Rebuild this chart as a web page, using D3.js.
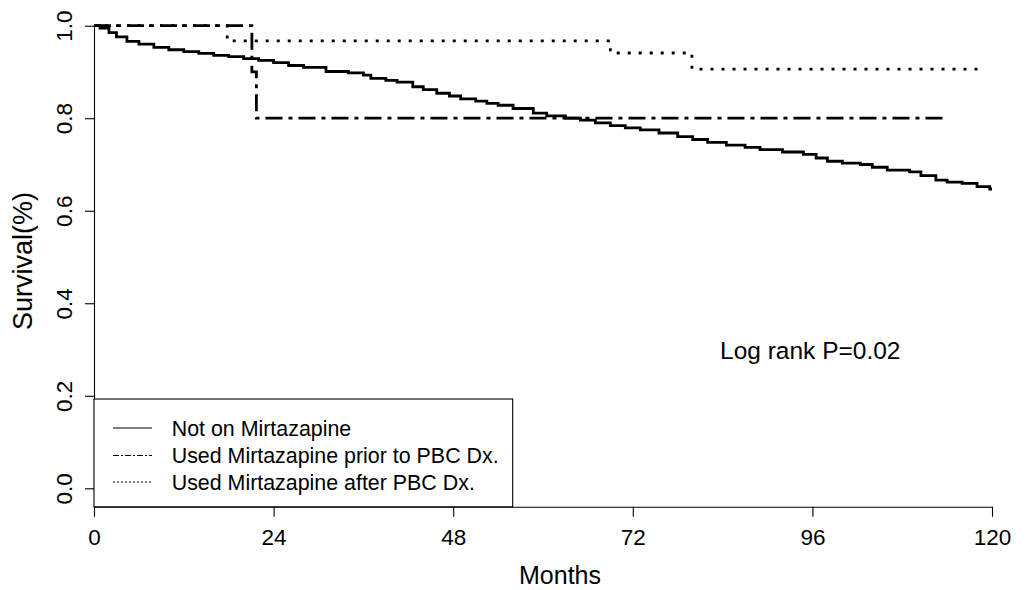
<!DOCTYPE html>
<html>
<head>
<meta charset="utf-8">
<script src="https://cdn.jsdelivr.net/npm/d3@7"></script>
<style>
  html, body { margin: 0; padding: 0; background: #fff; }
  svg { display: block; font-family: "Liberation Sans", Arial, sans-serif; }
</style>
</head>
<body>
<svg id="chart" width="1027" height="590"></svg>
<script>
// ---- data ----
const notOnMonths = [0, 0.8, 2, 3, 4.4, 6, 8, 10, 12, 14, 16, 18, 20, 22, 24, 26, 28, 31, 34, 36, 37, 39, 40.5, 42.6, 44, 45.8, 47.5, 49, 51, 52.5, 54, 56, 58.7, 60.5, 63, 65, 67, 69, 71, 73, 75.5, 78, 80, 82, 84.5, 87, 89, 92, 94.8, 96.5, 98, 100, 102.4, 104, 106, 109, 110.5, 112.5, 114, 116, 118, 119.7, 120];
const notOnSurv   = [1.0, 0.995, 0.985, 0.976, 0.966, 0.960, 0.953, 0.948, 0.944, 0.940, 0.936, 0.933, 0.929, 0.925, 0.920, 0.914, 0.910, 0.901, 0.898, 0.893, 0.886, 0.882, 0.878, 0.868, 0.862, 0.854, 0.848, 0.842, 0.837, 0.832, 0.828, 0.821, 0.811, 0.805, 0.800, 0.796, 0.790, 0.784, 0.779, 0.775, 0.768, 0.760, 0.754, 0.748, 0.742, 0.737, 0.732, 0.727, 0.722, 0.714, 0.707, 0.703, 0.700, 0.694, 0.688, 0.684, 0.676, 0.666, 0.662, 0.659, 0.652, 0.647, 0.647];

const priorMonths = [0, 21.1, 21.7, 114.1];
const priorSurv   = [1.0, 0.90, 0.80, 0.80];

const afterMonths = [0, 17.8, 69.0, 79.9, 118.8];
const afterSurv   = [1.0, 0.967, 0.941, 0.906, 0.906];

const xTicks = [0, 24, 48, 72, 96, 120];
const yTicks = [0.0, 0.2, 0.4, 0.6, 0.8, 1.0];
const legendLabels = ["Not on Mirtazapine", "Used Mirtazapine prior to PBC Dx.", "Used Mirtazapine after PBC Dx."];
const xTitle = "Months";
const yTitle = "Survival(%)";
const annotation = "Log rank P=0.02";

// ---- layout ----
const svg = d3.select("#chart");
const x = d3.scaleLinear().domain([0, 120]).range([94, 992]);
const y = d3.scaleLinear().domain([0, 1]).range([488.3, 25.7]);
const xAxisY = y(-0.04);

const tickFont = 22.5;

// y axis
const yAxis = svg.append("g")
  .attr("transform", "translate(" + x(0) + ",0)")
  .call(d3.axisLeft(y).tickValues(yTicks).tickFormat(d3.format(".1f")).tickSize(9).tickSizeOuter(0));
yAxis.select(".domain").attr("stroke", "#000").attr("stroke-width", 1.1);
yAxis.selectAll(".tick line").attr("stroke", "#000").attr("stroke-width", 1.1);
yAxis.selectAll(".tick text")
  .attr("transform", "rotate(-90)")
  .attr("x", 0).attr("y", -22).attr("dy", 0)
  .attr("text-anchor", "middle")
  .attr("font-size", tickFont)
  .attr("font-family", "Liberation Sans, Arial, sans-serif")
  .attr("fill", "#000");

// x axis
const xAxis = svg.append("g")
  .attr("transform", "translate(0," + xAxisY + ")")
  .call(d3.axisBottom(x).tickValues(xTicks).tickFormat(d3.format("d")).tickSize(10).tickSizeOuter(0));
xAxis.select(".domain").attr("stroke", "#000").attr("stroke-width", 1.1);
xAxis.selectAll(".tick line").attr("stroke", "#000").attr("stroke-width", 1.1);
xAxis.selectAll(".tick text")
  .attr("y", 38).attr("dy", 0)
  .attr("font-size", tickFont)
  .attr("font-family", "Liberation Sans, Arial, sans-serif")
  .attr("fill", "#000");

// axis titles
svg.append("text")
  .attr("x", 560).attr("y", 584)
  .attr("text-anchor", "middle")
  .attr("font-size", 25)
  .text(xTitle);
svg.append("text")
  .attr("transform", "translate(32," + 261 + ") rotate(-90)")
  .attr("text-anchor", "middle")
  .attr("font-size", 27)
  .text(yTitle);

// curves
const lineGen = d3.line().x(d => x(d[0])).y(d => y(d[1])).curve(d3.curveStepAfter);
const series = [
  { m: notOnMonths, s: notOnSurv, dash: null },
  { m: priorMonths, s: priorSurv, dash: "17,6,4,6" },
  { m: afterMonths, s: afterSurv, dash: "3,8" }
];
series.forEach(sr => {
  const pts = sr.m.map((mm, i) => [mm, sr.s[i]]);
  svg.append("path")
    .attr("d", lineGen(pts))
    .attr("fill", "none")
    .attr("stroke", "#000")
    .attr("stroke-width", 2.8)
    .attr("stroke-dasharray", sr.dash);
});

// annotation
svg.append("text")
  .attr("x", 720).attr("y", 358.5)
  .attr("font-size", 24.5)
  .text(annotation);

// legend
svg.append("rect")
  .attr("x", 94).attr("y", 399)
  .attr("width", 418.7).attr("height", xAxisY - 399)
  .attr("fill", "#fff").attr("stroke", "#000").attr("stroke-width", 1.1);
const legDash = [null, "6,2,2,2", "2,2"];
const legRowY = [428, 455.5, 482];
legendLabels.forEach((lab, i) => {
  svg.append("line")
    .attr("x1", 113).attr("x2", 152)
    .attr("y1", legRowY[i]).attr("y2", legRowY[i])
    .attr("stroke", "#000").attr("stroke-width", 1.1)
    .attr("stroke-dasharray", legDash[i]);
  svg.append("text")
    .attr("x", 171.7).attr("y", legRowY[i] + 7.7)
    .attr("font-size", 21.4)
    .text(lab);
});
</script>
</body>
</html>
